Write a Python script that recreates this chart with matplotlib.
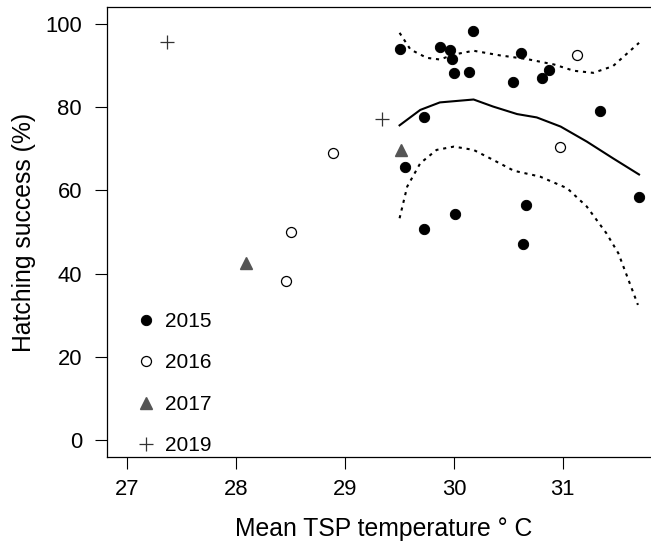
import numpy as np
import matplotlib
matplotlib.use("Agg")
import matplotlib.pyplot as plt

plt.rcParams['font.family'] = ['Liberation Sans', 'DejaVu Sans']

# hatching success vs mean TSP temperature, one group per year
x2015 = [29.50, 29.87, 29.96, 29.98, 30.17, 30.00, 30.14, 30.62, 30.54, 30.81,
         30.87, 29.72, 31.34, 29.55, 31.70, 30.66, 30.01, 29.72, 30.63]
y2015 = [93.9, 94.5, 93.8, 91.5, 98.2, 88.1, 88.4, 92.9, 86.1, 87.0,
         89.0, 77.5, 79.1, 65.7, 58.3, 56.4, 54.3, 50.7, 47.2]
x2016 = [31.13, 30.97, 28.89, 28.50, 28.46]
y2016 = [92.5, 70.3, 69.0, 50.0, 38.3]
x2017 = [28.09, 29.51]
y2017 = [42.5, 69.7]
x2019 = [27.36, 29.34]
y2019 = [95.5, 77.1]

# fitted curve and its confidence band
fit_x = [29.50, 29.69, 29.87, 30.18, 30.36, 30.58, 30.76, 30.98, 31.22, 31.46, 31.70]
fit_y = [75.6, 79.3, 81.1, 81.8, 80.1, 78.3, 77.5, 75.3, 71.7, 67.7, 63.8]
up_x = [29.50, 29.60, 29.75, 29.87, 30.00, 30.18, 30.42, 30.67, 30.92, 31.10, 31.28, 31.46, 31.70]
up_y = [97.8, 93.8, 91.8, 91.4, 92.6, 93.5, 92.4, 91.5, 90.2, 88.7, 88.2, 89.8, 95.4]
lo_x = [29.50, 29.57, 29.69, 29.84, 30.00, 30.18, 30.36, 30.55, 30.79, 31.04, 31.22, 31.40, 31.51, 31.69]
lo_y = [53.3, 60.9, 66.5, 69.7, 70.5, 69.7, 67.3, 64.7, 63.3, 60.5, 56.1, 49.7, 44.9, 32.5]

W, H = 651, 549
fig = plt.figure(figsize=(W / 100, H / 100), dpi=100)
# right edge of the plot box lies just outside the picture
ax = fig.add_axes([107 / W, 1 - 457 / H, (659.5 - 107) / W, 450 / H])

ax.plot(fit_x, fit_y, color='black', lw=1.5)
ax.plot(up_x, up_y, color='black', lw=1.5, ls=(0, (1.5, 2.3)))
ax.plot(lo_x, lo_y, color='black', lw=1.5, ls=(0, (1.5, 2.3)))

ax.plot(x2015, y2015, 'o', ms=7.4, color='black', mec='black', mew=0.7, label='2015')
ax.plot(x2016, y2016, 'o', ms=7.2, mfc='white', mec='black', mew=0.9, label='2016')
ax.plot(x2017, y2017, '^', ms=8.2, color='#555555', mec='#555555', label='2017')
ax.plot(x2019, y2019, '+', ms=10.5, color='#333333', mew=0.9, label='2019')

ax.set_xlim(26.812, 31.888)
ax.set_ylim(-4, 104)
ax.set_xticks([27, 28, 29, 30, 31])
ax.set_yticks([0, 20, 40, 60, 80, 100])
ax.tick_params(axis='both', direction='out', length=8.4, width=0.8, labelsize=15.8)
ax.tick_params(axis='x', pad=7.2)
ax.tick_params(axis='y', pad=9.6)
for s in ax.spines.values():
    s.set_linewidth(0.9)

ax.set_xlabel('Mean TSP temperature ° C', fontsize=17.8)
ax.set_ylabel('Hatching success (%)', fontsize=17.8)
ax.xaxis.set_label_coords(0.5, -0.133)
ax.yaxis.set_label_coords(-0.128, 0.5)

ax.legend(loc='lower left', bbox_to_anchor=(137.7 / W, 1 - 455.3 / H),
          bbox_transform=fig.transFigure, frameon=False, fontsize=15,
          handlelength=0.8, handletextpad=0.5, labelspacing=1.08,
          borderpad=0, borderaxespad=0)

fig.savefig('out.png', dpi=100)
